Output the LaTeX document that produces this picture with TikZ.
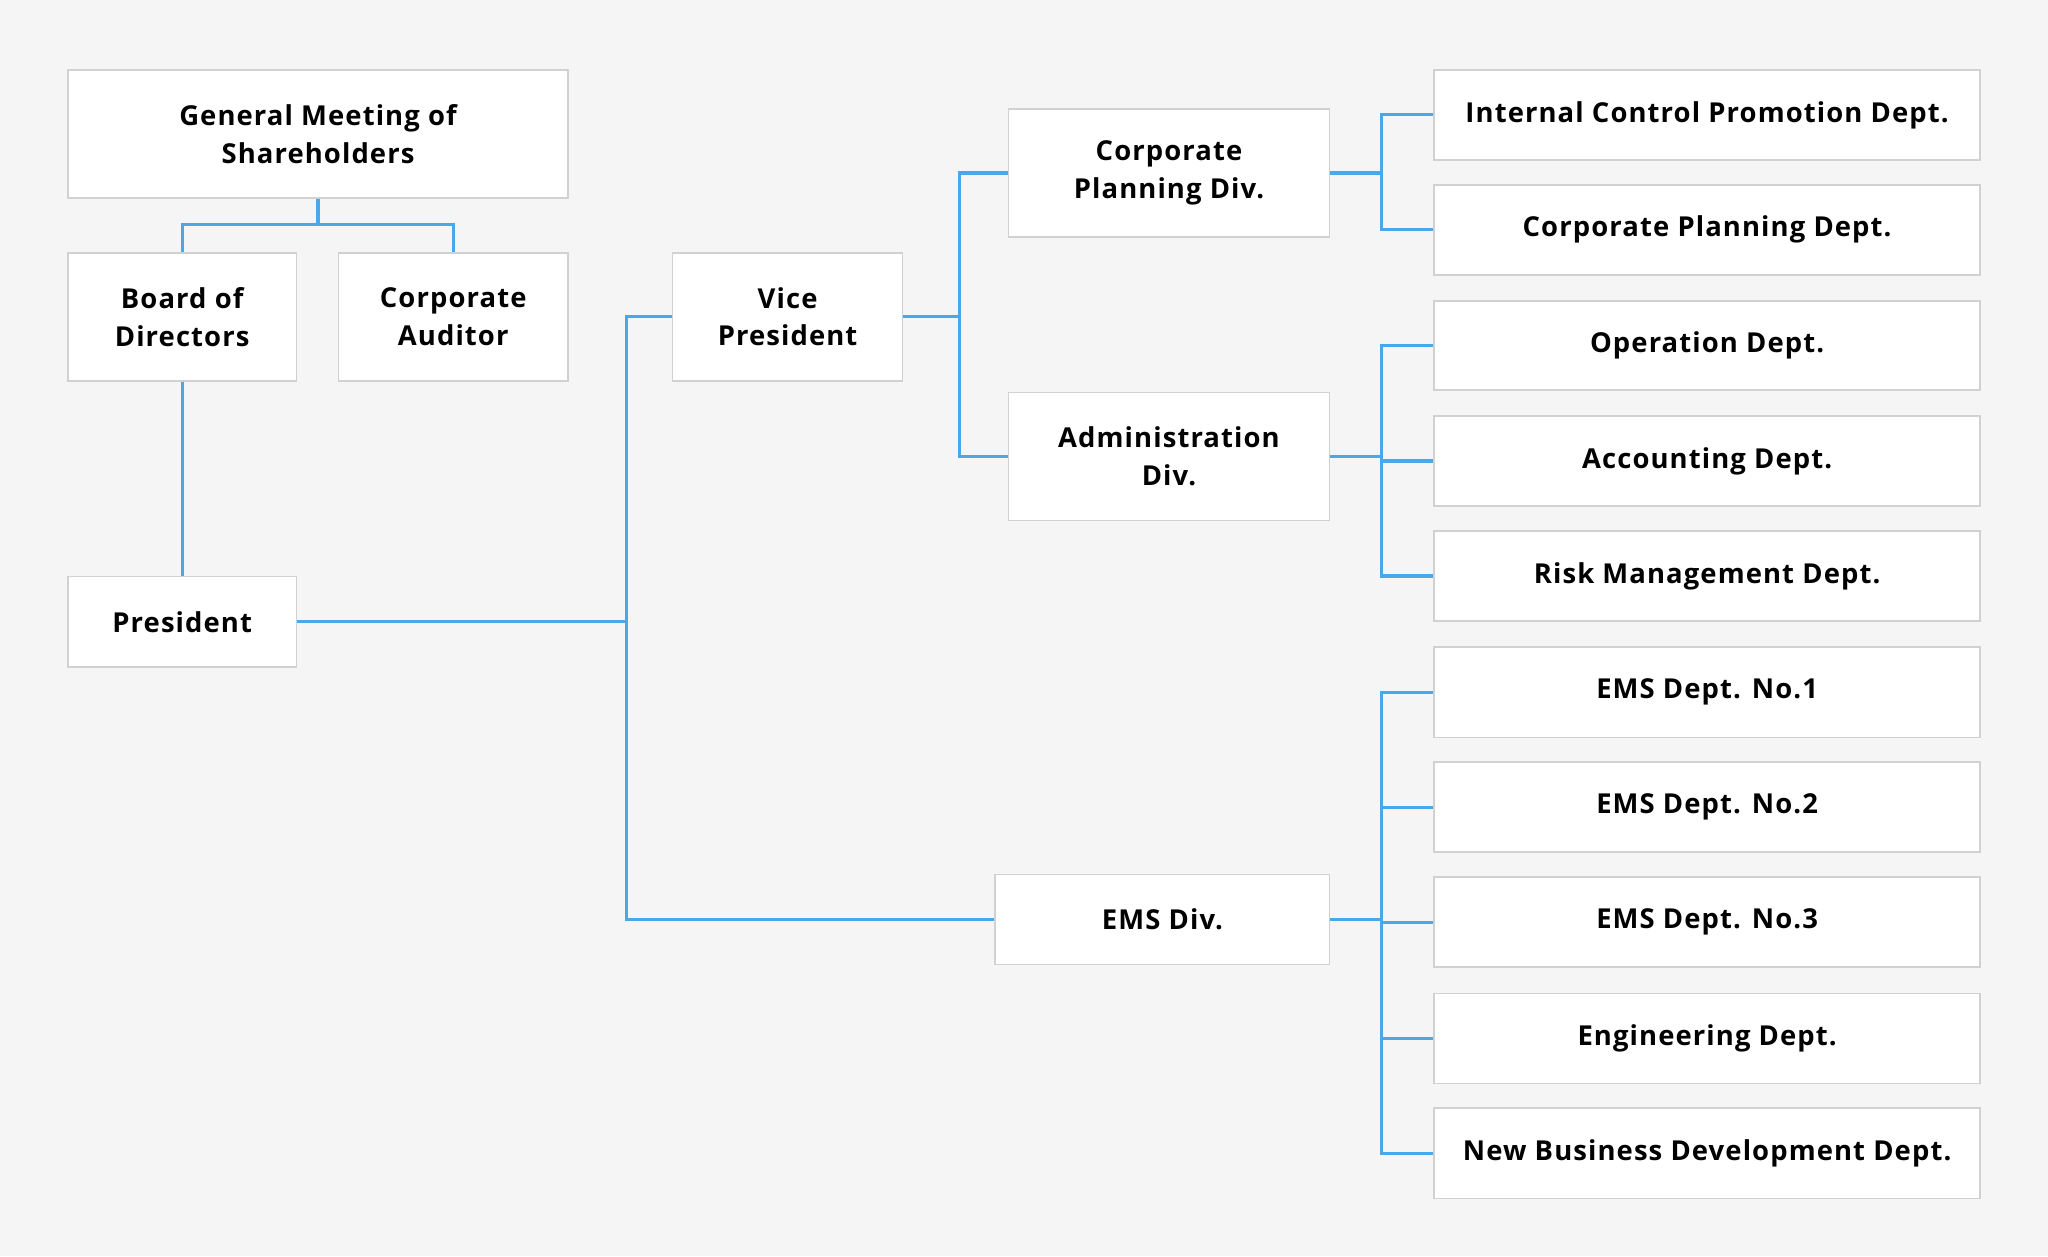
\documentclass[tikz,border=0pt]{standalone}
\usepackage{fontspec}
\setmainfont[LetterSpace=4]{Open Sans}
\begin{document}
\begin{tikzpicture}[x=0.5pt,y=-0.5pt,
  box/.style={draw=black!18,fill=white,line width=0.6pt,align=center,inner sep=0pt,font=\bfseries\fontsize{10.5}{14.5}\selectfont},
  ln/.style={draw=lineblue,line width=1.2pt}]
\definecolor{lineblue}{HTML}{4AA8E8}
\fill[black!4] (0,0) rectangle (1568,962);
\newcommand\bx[6]{\node[box,minimum width={(#4-#2)*0.5pt},minimum height={(#5-#3)*0.5pt}] (#1) at ({(#2+#4)/2},{(#3+#5)/2+1.5}) {#6};}
\bx{gms}{52}{52}{435}{150}{General Meeting of\\Shareholders}
\bx{bod}{52}{192}{227}{290}{Board of\\Directors}
\bx{aud}{259}{192}{435}{290}{Corporate\\Auditor}
\bx{pre}{52}{440}{227}{509}{President}
\bx{vp}{515}{192}{691}{290}{Vice\\President}
\bx{cpd}{772}{82}{1018}{180}{Corporate\\Planning Div.}
\bx{adm}{772}{299}{1018}{397}{Administration\\Div.}
\bx{ems}{762}{668}{1018}{737}{EMS Div.}
\bx{d1}{1098}{52}{1516}{121}{Internal Control Promotion Dept.}
\bx{d2}{1098}{140}{1516}{209}{Corporate Planning Dept.}
\bx{d3}{1098}{229}{1516}{297}{Operation Dept.}
\bx{d4}{1098}{317}{1516}{386}{Accounting Dept.}
\bx{d5}{1098}{405}{1516}{474}{Risk Management Dept.}
\bx{d6}{1098}{494}{1516}{563}{EMS Dept. No.1}
\bx{d7}{1098}{582}{1516}{651}{EMS Dept. No.2}
\bx{d8}{1098}{670}{1516}{739}{EMS Dept. No.3}
\bx{d9}{1098}{759}{1516}{828}{Engineering Dept.}
\bx{d10}{1098}{847}{1516}{916}{New Business Development Dept.}
\draw[ln] (gms.south) -- ++(0,20) coordinate (jg);
\draw[ln] (jg) -| (bod.north);
\draw[ln] (jg) -| (aud.north);
\draw[ln] (bod.south) -- (pre.north);
\draw[ln] (pre.east) -- ++(252,0) coordinate (jp);
\draw[ln] (jp) |- (vp.west);
\draw[ln] (jp) |- (ems.west);
\draw[ln] (vp.east) -- ++(43,0) coordinate (jv);
\draw[ln] (jv) |- (cpd.west);
\draw[ln] (jv) |- (adm.west);
\draw[ln] (cpd.east) -- ++(39,0) coordinate (jc);
\foreach \d in {d1,d2} \draw[ln] (jc) |- (\d.west);
\draw[ln] (adm.east) -- ++(39,0) coordinate (ja);
\foreach \d in {d3,d4,d5} \draw[ln] (ja) |- (\d.west);
\draw[ln] (ems.east) -- ++(39,0) coordinate (je);
\foreach \d in {d6,d7,d8,d9,d10} \draw[ln] (je) |- (\d.west);
\end{tikzpicture}
\end{document}
